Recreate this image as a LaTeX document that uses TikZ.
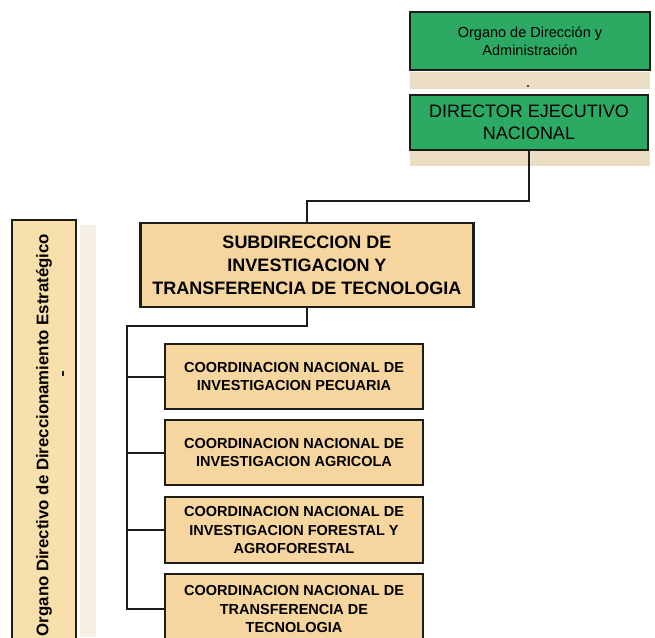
\documentclass[tikz,border=0pt]{standalone}
\usepackage{fontspec}
\setmainfont{Liberation Sans}
\begin{document}
\definecolor{orggreen}{RGB}{44,170,100}
\definecolor{tanfill}{RGB}{246,214,158}
\definecolor{tanlight}{RGB}{248,224,172}
\definecolor{shadowtan}{RGB}{236,222,196}
\definecolor{edge}{RGB}{30,28,22}
\begin{tikzpicture}[x=1pt,y=-1pt,
  greenbox/.style={draw=edge,line width=2.4pt,fill=orggreen,align=center,inner sep=0pt},
  headbox/.style={draw=edge,line width=2.4pt,fill=tanfill,align=center,inner sep=0pt,
    minimum width=333pt,minimum height=84pt,
    font=\fontsize{18}{23}\selectfont\bfseries},
  coordbox/.style={draw=edge,line width=1.8pt,fill=tanfill,align=center,inner sep=0pt,
    minimum width=258pt,font=\fontsize{14.5}{18.5}\selectfont\bfseries},
  link/.style={draw=edge,line width=2pt}]
\useasboundingbox (0,0) rectangle (655,637);
\fill[white] (0,0) rectangle (655,637);

% beige bands under the green boxes
\fill[shadowtan] (410,72) rectangle (650,89);
\fill[shadowtan] (410,151) rectangle (650,166);
\fill[edge] (528,86) circle (1.2);
% faint band beside the vertical box
\fill[shadowtan!45] (80,225) rectangle (96,637);

% top organ
\node[greenbox,minimum width=240pt,minimum height=58pt,
  font=\fontsize{14.5}{18}\selectfont] (org) at (530,41)
  {Organo de Dirección y\\Administración};
\node[greenbox,minimum width=238pt,minimum height=55pt,
  font=\fontsize{18}{22}\selectfont] (dir) at (529,122.5)
  {DIRECTOR EJECUTIVO\\NACIONAL};

% subdirection
\node[headbox] (sub) at (307,265)
  {SUBDIRECCION DE\\INVESTIGACION Y\\TRANSFERENCIA DE TECNOLOGIA};

% coordinations
\node[coordbox,minimum height=65pt] (c1) at (294,376.5)
  {COORDINACION NACIONAL  DE\\INVESTIGACION PECUARIA};
\node[coordbox,minimum height=65pt] (c2) at (294,452.5)
  {COORDINACION NACIONAL  DE\\INVESTIGACION AGRICOLA};
\node[coordbox,minimum height=66pt] (c3) at (294,530)
  {COORDINACION NACIONAL DE\\INVESTIGACION FORESTAL Y\\AGROFORESTAL};
\node[coordbox,minimum height=70pt] (c4) at (294,609)
  {COORDINACION NACIONAL  DE\\TRANSFERENCIA DE\\TECNOLOGIA};

% vertical strategic organ
\node[draw=edge,line width=2.2pt,fill=tanlight,minimum width=64pt,minimum height=426pt,
  inner sep=0pt] (strat) at (44,433) {};
\node[rotate=90,font=\fontsize{16.8}{18}\selectfont\bfseries] (stratlabel) at (44,435)
  {Organo Directivo de Direccionamiento Estratégico};
\fill[edge] (62,371) rectangle (64,376);

% connectors
\coordinate (t) at (127,326);
\draw[link] (dir.south) -- ++(0,50) -| (sub.north);
\draw[link] (sub.south) |- (t) |- (c4.west);
\draw[link] (c1.west) -- (c1.west -| t);
\draw[link] (c2.west) -- (c2.west -| t);
\draw[link] (c3.west) -- (c3.west -| t);
\end{tikzpicture}
\end{document}
